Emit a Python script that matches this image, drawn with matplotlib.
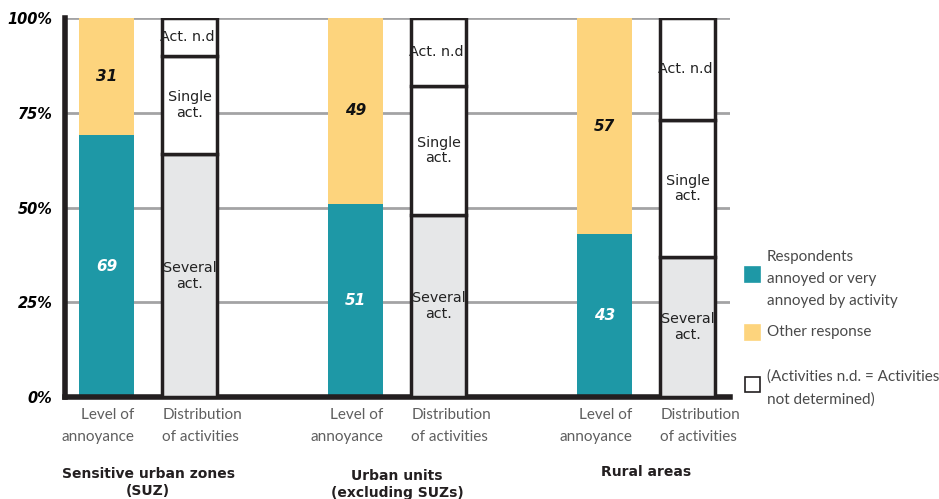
import matplotlib.pyplot as plt
from matplotlib.patches import Rectangle

# Data
groups = ["Sensitive urban zones\n(SUZ)", "Urban units\n(excluding SUZs)", "Rural areas"]
annoyed = [69, 51, 43]
other = [31, 49, 57]
several_act = [64, 48, 37]
single_act = [26, 34, 36]
act_nd = [10, 18, 27]
bar_labels = ["Level of\nannoyance", "Distribution\nof activities"]
yticks = [0, 25, 50, 75, 100]
ytick_labels = ["0%", "25%", "50%", "75%", "100%"]

TEAL = "#1e98a6"
YELLOW = "#fdd47d"
LIGHTGREY = "#e6e7e8"
GRID = "#a3a3a5"

fig = plt.figure(figsize=(9.39, 4.99), dpi=100)
W, H = 939, 499
ax = fig.add_axes([65 / W, (499 - 397) / H, (730 - 65) / W, (397 - 18) / H])

width = 0.66
lvl_x = [0, 3, 6]
dist_x = [1, 4, 7]

for y in yticks[1:]:
    ax.axhline(y, color=GRID, lw=2, zorder=0)

# Level of annoyance stacks
ax.bar(lvl_x, annoyed, width=width, color=TEAL, zorder=2)
ax.bar(lvl_x, other, width=width, bottom=annoyed, color=YELLOW, zorder=2)
for x, a, o in zip(lvl_x, annoyed, other):
    ax.text(x, a / 2, f"{a}", ha="center", va="center", color="white",
            fontsize=11, fontweight="bold", fontstyle="italic", zorder=4)
    ax.text(x, a + o / 2, f"{o}", ha="center", va="center", color="#111111",
            fontsize=11, fontweight="bold", fontstyle="italic", zorder=4)

# Distribution of activities stacks
ekw = dict(edgecolor="#231f20", linewidth=2.5, zorder=3)
ax.bar(dist_x, several_act, width=width, color=LIGHTGREY, **ekw)
ax.bar(dist_x, single_act, width=width, bottom=several_act, color="white", **ekw)
bottoms_nd = [s + t for s, t in zip(several_act, single_act)]
ax.bar(dist_x, act_nd, width=width, bottom=bottoms_nd, color="white", **ekw)
tkw = dict(ha="center", va="center", color="#222222", fontsize=10.3,
           linespacing=1.15, zorder=4)
for x, s, t, n in zip(dist_x, several_act, single_act, act_nd):
    ax.text(x, s / 2, "Several\nact.", **tkw)
    ax.text(x, s + t / 2, "Single\nact.", **tkw)
    ax.text(x, s + t + n / 2, "Act. n.d.", **tkw)

ax.set_xlim(-0.5, 7.51)
ax.set_ylim(0, 100)
for side in ["top", "right"]:
    ax.spines[side].set_visible(False)
ax.spines["left"].set_linewidth(4)
ax.spines["bottom"].set_linewidth(4)
ax.spines["left"].set_color("#231f20")
ax.spines["bottom"].set_color("#231f20")

ax.set_yticks(yticks)
ax.set_yticklabels(ytick_labels, fontsize=10.5, fontweight="bold", fontstyle="italic")
ax.tick_params(axis="y", length=0, pad=9)
ax.set_xticks([])

# Bar captions: annoyance captions flush right with the bar, distribution flush left
ckw = dict(fontsize=11, color="#5f5f5f", family="Lato", va="top",
           linespacing=1.72)
for lx, dx in zip(lvl_x, dist_x):
    ax.text(lx + width / 2, -3.0, bar_labels[0], ha="right", multialignment="right", **ckw)
    ax.text(dx - width / 2, -3.0, bar_labels[1], ha="left", multialignment="left", **ckw)

group_y = [-18.5, -19.0, -18.0]
for lx, dx, g, gy in zip(lvl_x, dist_x, groups, group_y):
    ax.text((lx + dx) / 2, gy, g, ha="center", va="top", fontsize=10,
            fontweight="bold", color="#231f20", linespacing=1.3)

# Legend
def legend_box(y_top, color, edge=None):
    fig.patches.append(Rectangle((745 / W, 1 - (y_top + 15) / H), 15 / W, 15 / H,
                                 transform=fig.transFigure, facecolor=color,
                                 edgecolor=edge or color, linewidth=1.2))

lkw = dict(fontsize=11, color="#4a4a4a", family="Lato",
           va="center", ha="left", linespacing=1.75)
legend_box(267, TEAL)
fig.text(767 / W, 1 - 279 / H, "Respondents\nannoyed or very\nannoyed by activity", **lkw)
legend_box(325, YELLOW)
fig.text(767 / W, 1 - 332 / H, "Other response", **lkw)
legend_box(377, "white", "#231f20")
fig.text(767 / W, 1 - 388 / H, "(Activities n.d. = Activities\nnot determined)", **lkw)

fig.savefig("out.png", dpi=100)
